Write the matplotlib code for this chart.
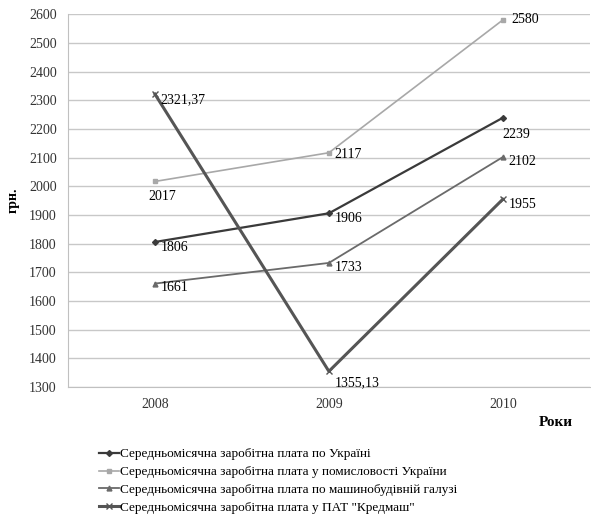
import numpy as np
import matplotlib.pyplot as plt
from matplotlib.lines import Line2D

plt.rcParams['font.family'] = ['Liberation Serif', 'DejaVu Serif']

years = ['2008', '2009', '2010']
ukraine = [1806, 1906, 2239]
industry = [2017, 2117, 2580]
machine = [1661, 1733, 2102]
kredmash = [2321.37, 1355.13, 1955]

labels_ukraine = ['1806', '1906', '2239']
labels_industry = ['2017', '2117', '2580']
labels_machine = ['1661', '1733', '2102']
labels_kredmash = ['2321,37', '1355,13', '1955']

names = [
    'Середньомісячна заробітна плата по Україні',
    'Середньомісячна заробітна плата у помисловості України',
    'Середньомісячна заробітна плата по машинобудівній галузі',
    'Середньомісячна заробітна плата у ПАТ "Кредмаш"',
]

fig = plt.figure(figsize=(5.91, 5.26), dpi=100)
ax = fig.add_axes([0.115, 0.264, 0.883, 0.709])

x = np.arange(len(years))
styles = [
    (ukraine, '#3a3a3a', 'D', 1.6, 3),
    (industry, '#a8a8a8', 's', 1.2, 3.5),
    (machine, '#6a6a6a', '^', 1.3, 3.5),
    (kredmash, '#555555', 'x', 2.2, 4),
]
handles = []
for (vals, col, mk, lw, ms), name in zip(styles, names):
    ax.plot(x, vals, color=col, marker=mk, lw=lw, ms=ms, mew=1)
    handles.append(Line2D([], [], color=col, marker=mk, lw=lw, ms=ms, mew=1))

fs = 10
# data labels
for i in range(3):
    ax.annotate(labels_ukraine[i], (x[i], ukraine[i]), xytext=(4, -4) if i < 2 else (0, -12),
                textcoords='offset points', fontsize=fs, va='center')
    ax.annotate(labels_machine[i], (x[i], machine[i]), xytext=(4, -3),
                textcoords='offset points', fontsize=fs, va='center')
    ax.annotate(labels_kredmash[i], (x[i], kredmash[i]), xytext=(4, -4 if i != 1 else -8),
                textcoords='offset points', fontsize=fs, va='center')
ax.annotate(labels_industry[0], (x[0], industry[0]), xytext=(-5, -11),
            textcoords='offset points', fontsize=fs, va='center')
ax.annotate(labels_industry[1], (x[1], industry[1]), xytext=(4, -1),
            textcoords='offset points', fontsize=fs, va='center')
ax.annotate(labels_industry[2], (x[2], industry[2]), xytext=(6, 0),
            textcoords='offset points', fontsize=fs, va='center')

ax.set_xlim(-0.5, 2.5)
ax.set_ylim(1300, 2600)
ax.set_yticks(np.arange(1300, 2601, 100))
ax.set_xticks(x)
ax.set_xticklabels(years)
ax.tick_params(axis='both', length=0, labelsize=fs, colors='#333333', pad=8)
ax.grid(axis='y', color='#c8c8c8', lw=1)
ax.set_axisbelow(True)
for side in ['top', 'right']:
    ax.spines[side].set_visible(False)
ax.spines['left'].set_color('#c0c0c0')
ax.spines['bottom'].set_color('#c0c0c0')

fig.text(0.022, 0.62, 'грн.', rotation=90, fontsize=10, fontweight='bold', ha='center', va='center')
fig.text(0.94, 0.197, 'Роки', fontsize=11, fontweight='bold', ha='center', va='center')

fig.legend(handles, names, loc='upper left', bbox_to_anchor=(0.168, 0.148), frameon=False,
           fontsize=9.5, handlelength=1.5, handletextpad=0.1, labelspacing=0.42,
           borderaxespad=0, borderpad=0)

fig.savefig('out.png', dpi=100)
